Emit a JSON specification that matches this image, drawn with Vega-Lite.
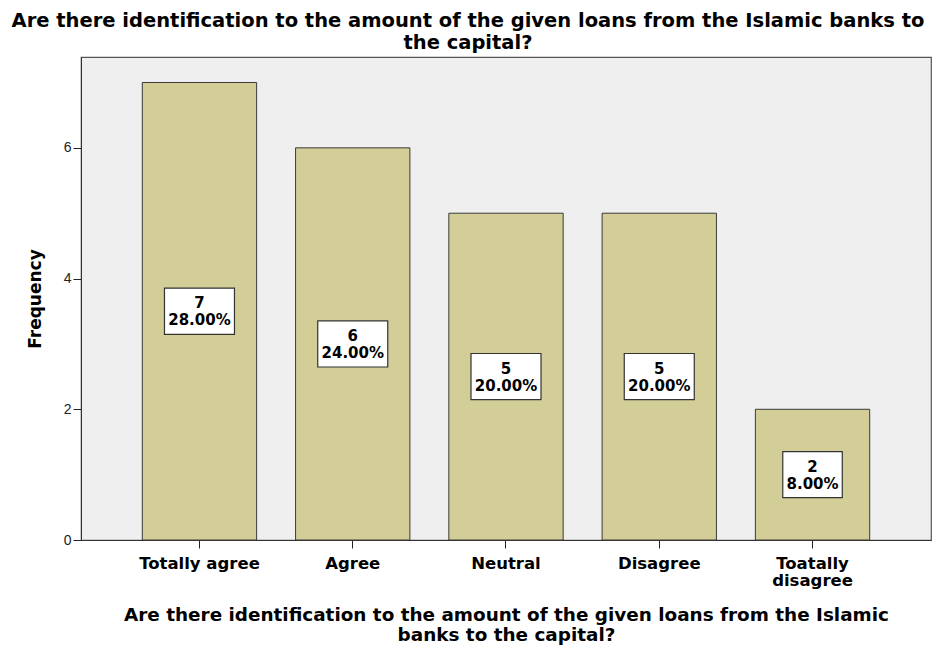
{
  "$schema": "https://vega.github.io/schema/vega-lite/v6.json",
  "width": 850,
  "height": 483,
  "autosize": "none",
  "padding": {"left": 81, "top": 57, "right": 5, "bottom": 106},
  "background": "white",
  "config": {
    "view": {"fill": "#efefef", "stroke": "#555555", "strokeWidth": 1.2},
    "font": "DejaVu Sans"
  },
  "title": {
    "text": ["Are there identification to the amount of the given loans from the Islamic banks to", "the capital?"],
    "font": "DejaVu Sans",
    "fontSize": 19.5,
    "fontWeight": "bold",
    "color": "black",
    "anchor": "middle",
    "dx": -38,
    "lineHeight": 22,
    "offset": 4
  },
  "data": {
    "values": [
      {"response": "Totally agree", "count": 7, "pct": 0.28},
      {"response": "Agree", "count": 6, "pct": 0.24},
      {"response": "Neutral", "count": 5, "pct": 0.20},
      {"response": "Disagree", "count": 5, "pct": 0.20},
      {"response": "Toatally disagree", "count": 2, "pct": 0.08}
    ]
  },
  "encoding": {
    "x": {
      "field": "response",
      "type": "nominal",
      "sort": null,
      "scale": {"paddingInner": 0.254, "paddingOuter": 0.4},
      "axis": {
        "title": ["Are there identification to the amount of the given loans from the Islamic", "banks to the capital?"],
        "titleFont": "DejaVu Sans",
        "titleFontSize": 18.4,
        "titleFontWeight": "bold",
        "titleColor": "black",
        "titleLineHeight": 20,
        "titlePadding": 16,
        "labelExpr": "datum.label == 'Toatally disagree' ? ['Toatally', 'disagree'] : datum.label",
        "labelFont": "DejaVu Sans",
        "labelFontSize": 16.5,
        "labelFontWeight": "bold",
        "labelColor": "black",
        "labelLineHeight": 17.5,
        "labelAngle": 0,
        "labelPadding": 7,
        "tickSize": 8,
        "tickColor": "#222222",
        "domainColor": "#333333",
        "labelLimit": 300
      }
    }
  },
  "layer": [
    {
      "mark": {"type": "bar", "fill": "#d3ce97", "stroke": "#3a3a3a", "strokeWidth": 1},
      "encoding": {
        "y": {
          "field": "count",
          "type": "quantitative",
          "scale": {"domain": [0, 7.39], "nice": false, "zero": true},
          "axis": {
            "title": "Frequency",
            "titleFont": "DejaVu Sans",
            "titleFontSize": 17,
            "titleFontWeight": "bold",
            "titleColor": "black",
            "titlePadding": 19,
            "values": [0, 2, 4, 6],
            "grid": false,
            "tickSize": 8,
            "tickColor": "#222222",
            "domainColor": "#333333",
            "labelFont": "Liberation Sans",
            "labelFontSize": 14,
            "labelColor": "#222222",
            "labelPadding": 2
          }
        }
      }
    },
    {
      "mark": {"type": "point", "filled": true, "fill": "white", "stroke": "#333333", "strokeWidth": 1.2, "opacity": 1},
      "encoding": {
        "y": {"field": "count", "type": "quantitative", "scale": {"domain": [0, 14.78], "nice": false}, "axis": null},
        "shape": {
          "condition": {"test": "datum.pct < 0.1", "value": "M-1,-0.775L1,-0.775L1,0.775L-1,0.775Z"},
          "value": "M-1,-0.66L1,-0.66L1,0.66L-1,0.66Z"
        },
        "size": {"condition": {"test": "datum.pct < 0.1", "value": 3540}, "value": 4900}
      }
    },
    {
      "mark": {"type": "text", "font": "DejaVu Sans", "fontSize": 15, "fontWeight": "bold", "color": "black", "dy": -8, "baseline": "middle"},
      "encoding": {
        "y": {"field": "count", "type": "quantitative", "scale": {"domain": [0, 14.78], "nice": false}, "axis": null},
        "text": {"field": "count", "type": "quantitative"}
      }
    },
    {
      "mark": {"type": "text", "font": "DejaVu Sans", "fontSize": 15, "fontWeight": "bold", "color": "black", "dy": 9, "baseline": "middle"},
      "encoding": {
        "y": {"field": "count", "type": "quantitative", "scale": {"domain": [0, 14.78], "nice": false}, "axis": null},
        "text": {"field": "pct", "type": "quantitative", "format": ".2%"}
      }
    }
  ],
  "resolve": {"scale": {"y": "independent"}}
}
